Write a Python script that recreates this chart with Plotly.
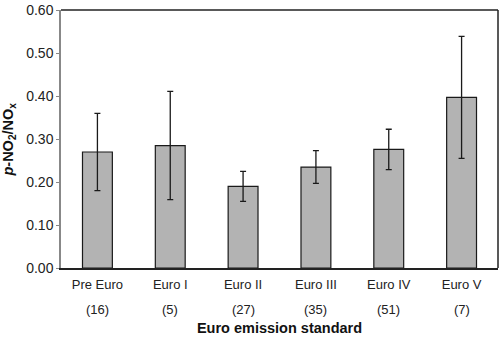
import plotly.graph_objects as go

categories = ["Pre Euro", "Euro I", "Euro II", "Euro III", "Euro IV", "Euro V"]
counts = ["(16)", "(5)", "(27)", "(35)", "(51)", "(7)"]
values = [0.270, 0.285, 0.190, 0.235, 0.276, 0.397]
errors = [0.090, 0.126, 0.035, 0.038, 0.047, 0.142]
y_ticks = [0.0, 0.1, 0.2, 0.3, 0.4, 0.5, 0.6]

FONT = "Liberation Sans, Arial, sans-serif"

fig = go.Figure()
fig.add_trace(go.Bar(
    x=categories, y=values,
    width=0.41,
    marker=dict(color="#b3b3b3", line=dict(color="#1a1a1a", width=1.2)),
    error_y=dict(type="data", array=errors, visible=True,
                 color="#1a1a1a", thickness=1.3, width=3),
))

for c, n in zip(categories, counts):
    fig.add_annotation(x=c, y=0, xref="x", yref="y", text=n,
                       showarrow=False, yshift=-41,
                       font=dict(family=FONT, size=13, color="#222"))

fig.add_annotation(x=-0.118, y=0.3, xref="paper", yref="y", xanchor="center",
                   text="<b><i>p</i>-NO<sub>2</sub>/NO<sub>x</sub></b>",
                   textangle=-90, showarrow=False,
                   font=dict(family=FONT, size=14.5, color="#111"))

fig.update_layout(
    width=500, height=338,
    margin=dict(l=61, r=2, t=8, b=70),
    paper_bgcolor="white", plot_bgcolor="white",
    showlegend=False,
    font=dict(family=FONT, size=13, color="#222"),
    xaxis=dict(
        type="category", range=[-0.5, 5.5],
        showline=True, linecolor="#222", linewidth=1.5,
        mirror=False, ticks="", showgrid=False,
        ticklabelstandoff=4,
        tickfont=dict(family=FONT, size=13, color="#222"),
        title=dict(text="<b>Euro emission standard</b>",
                   font=dict(family=FONT, size=14.5, color="#111"),
                   standoff=32),
    ),
    yaxis=dict(
        range=[0, 0.6005], tickvals=y_ticks,
        ticktext=[f"{v:.2f}" for v in y_ticks],
        showline=True, linecolor="#888", linewidth=1.5,
        mirror=False, ticks="outside", ticklen=3, tickcolor="#888",
        showgrid=False, zeroline=False,
        tickfont=dict(family=FONT, size=14, color="#222"),
    ),
)

# top and right frame lines (black)
fig.add_shape(type="line", xref="paper", yref="paper", x0=0, x1=1, y0=1, y1=1,
              line=dict(color="#222", width=1.5))
fig.add_shape(type="line", xref="paper", yref="paper", x0=1, x1=1, y0=0, y1=1,
              line=dict(color="#222", width=1.5))

fig.write_html("out.html")
